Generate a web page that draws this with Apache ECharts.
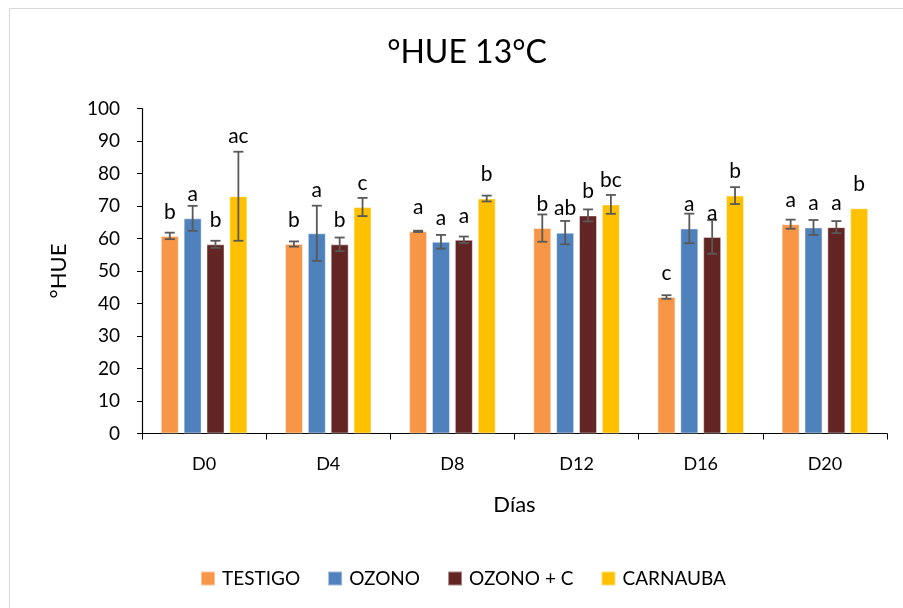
<!DOCTYPE html>
<html>
<head>
<meta charset="utf-8">
<script src="https://cdn.jsdelivr.net/npm/echarts@6/dist/echarts.min.js"></script>
<style>
  html, body { margin: 0; padding: 0; background: #fff; }
  #frame { position: absolute; left: 9px; top: 8px; width: 920px; height: 620px; border: 1px solid #d9d9d9; box-sizing: border-box; }
  #chart { position: absolute; left: 0; top: 0; width: 903px; height: 608px; }
</style>
</head>
<body>
<div id="frame"></div>
<div id="chart"></div>
<script>
// Sampling days
const categories = ['D0', 'D4', 'D8', 'D12', 'D16', 'D20'];

// Treatments
const seriesNames = ['TESTIGO', 'OZONO', 'OZONO + C', 'CARNAUBA'];

// Mean °HUE per day
const testigo  = [60.8, 58.3, 62.2, 63.2, 42.0, 64.4];
const ozono    = [66.2, 61.6, 59.0, 61.8, 63.1, 63.4];
const ozonoC   = [58.2, 58.2, 59.6, 67.1, 60.5, 63.5];
const carnauba = [73.0, 69.7, 72.3, 70.5, 73.2, 69.3];

// Standard error (±)
const testigoErr  = [1.0, 0.8, 0.2, 4.2, 0.55, 1.4];
const ozonoErr    = [3.85, 8.5, 2.1, 3.6, 4.55, 2.3];
const ozonoCErr   = [1.1, 2.1, 1.0, 1.85, 5.2, 1.85];
const carnaubaErr = [13.7, 2.8, 0.9, 2.9, 2.6, 0];

// Significance letters
const testigoSig  = ['b', 'b', 'a', 'b', 'c', 'a'];
const ozonoSig    = ['a', 'a', 'a', 'ab', 'a', 'a'];
const ozonoCSig   = ['b', 'b', 'a', 'b', 'a', 'a'];
const carnaubaSig = ['ac', 'c', 'b', 'bc', 'b', 'b'];

// Y axis ticks
const yMin = 0, yMax = 100, yStep = 10;

const means = [testigo, ozono, ozonoC, carnauba];
const errs = [testigoErr, ozonoErr, ozonoCErr, carnaubaErr];
const sigs = [testigoSig, ozonoSig, ozonoCSig, carnaubaSig];
const colors = ['#F79646', '#4F81BD', '#632523', '#FFC000'];

const FONT = 'Lato';
const BAR_W = 18;
const BAR_GAP = 0.27;
const STEP = BAR_W * (1 + BAR_GAP);

const barSeries = seriesNames.map((name, s) => ({
  name: name,
  type: 'bar',
  barWidth: BAR_W,
  barGap: (BAR_GAP * 100) + '%',
  itemStyle: { color: colors[s], borderColor: 'rgba(255,255,255,0.45)', borderWidth: 1 },
  data: means[s],
  z: 2
}));

// Error bars and letters drawn on top of each bar
const errSeries = seriesNames.map((name, s) => ({
  type: 'custom',
  z: 5,
  silent: true,
  data: categories.map((c, i) => [i, means[s][i], errs[s][i]]),
  renderItem: function (params, api) {
    const i = api.value(0), v = api.value(1), e = api.value(2);
    const center = api.coord([i, v]);
    const x = center[0] + (s - 1.5) * STEP;
    const top = api.coord([i, v + e])[1];
    const bot = api.coord([i, v - e])[1];
    const barTop = center[1];
    const children = [];
    const ln = { stroke: '#595959', lineWidth: 1.8 };
    if (e > 0) {
      children.push({ type: 'line', shape: { x1: x, y1: top, x2: x, y2: bot }, style: ln });
      children.push({ type: 'line', shape: { x1: x - 5, y1: top, x2: x + 5, y2: top }, style: ln });
      children.push({ type: 'line', shape: { x1: x - 5, y1: bot, x2: x + 5, y2: bot }, style: ln });
    }
    // letters sit above the bar, lifted over the cap when the error is wide
    let ly = barTop - 24;
    if (e > 6) ly = Math.min(ly, top - 15);
    children.push({
      type: 'text',
      style: {
        x: x, y: ly, text: sigs[s][params.dataIndex],
        fill: '#000', font: '21px ' + FONT,
        textAlign: 'center', textVerticalAlign: 'middle'
      }
    });
    return { type: 'group', children: children };
  }
}));

const chart = echarts.init(document.getElementById('chart'), null, { renderer: 'canvas' });
chart.setOption({
  backgroundColor: 'transparent',
  animation: false,
  title: {
    text: '°HUE 13°C',
    left: 462,
    top: 32,
    textAlign: 'center',
    textStyle: { fontFamily: FONT, fontSize: 32, fontWeight: 'normal', color: '#000' }
  },
  legend: {
    data: seriesNames,
    left: 200,
    top: 569,
    padding: 0,
    icon: 'rect',
    itemWidth: 14,
    itemHeight: 14,
    itemGap: 27,
    textStyle: { fontFamily: FONT, fontSize: 19, color: '#000', padding: [0, 0, 0, 2] }
  },
  grid: { left: 142, right: 16, top: 108.5, bottom: 174.5, containLabel: false },
  xAxis: {
    type: 'category',
    data: categories,
    name: 'Días',
    nameLocation: 'middle',
    nameGap: 60,
    nameTextStyle: { fontFamily: FONT, fontSize: 22, color: '#000' },
    axisLine: { lineStyle: { color: '#000', width: 1.2 } },
    axisTick: { show: true, length: 6, lineStyle: { color: '#000' }, alignWithLabel: false },
    axisLabel: { fontFamily: FONT, fontSize: 18, color: '#000', margin: 22 }
  },
  yAxis: {
    type: 'value',
    min: yMin,
    max: yMax,
    interval: yStep,
    name: '°HUE',
    nameLocation: 'middle',
    nameGap: 72,
    nameRotate: 90,
    nameTextStyle: { fontFamily: FONT, fontSize: 22, color: '#000' },
    axisLine: { show: true, lineStyle: { color: '#000', width: 1.2 } },
    axisTick: { show: true, length: 5, lineStyle: { color: '#000' } },
    splitLine: { show: false },
    axisLabel: { fontFamily: FONT, fontSize: 19, color: '#000', margin: 22 }
  },
  series: barSeries.concat(errSeries)
});
</script>
</body>
</html>
